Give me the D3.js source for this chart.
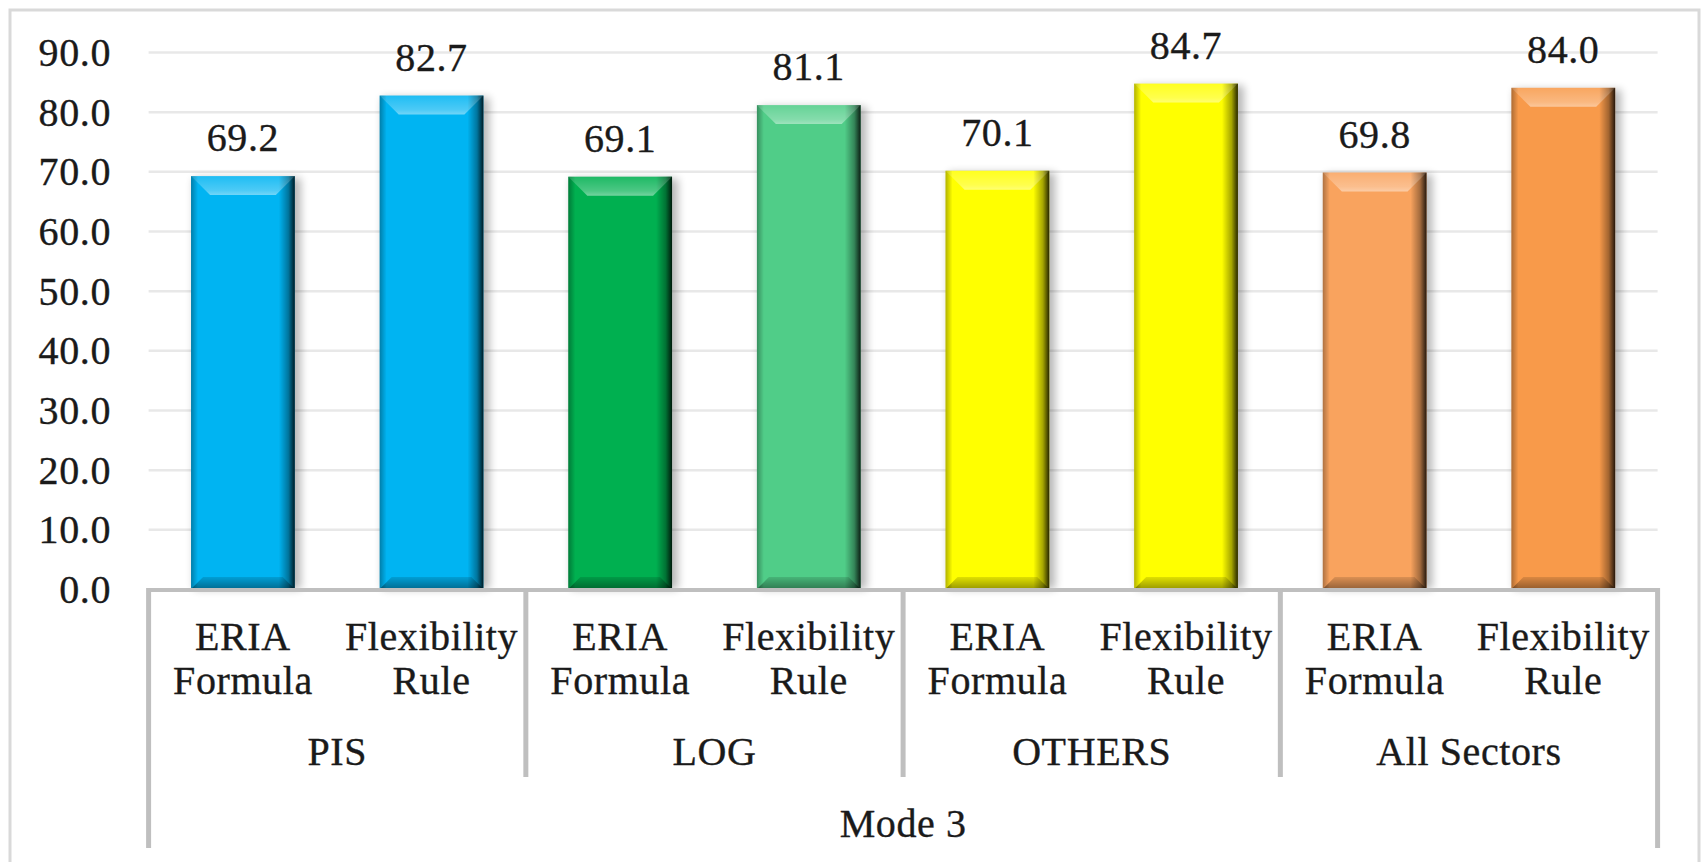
<!DOCTYPE html>
<html>
<head>
<meta charset="utf-8">
<script src="https://cdn.jsdelivr.net/npm/d3@7"></script>
<style>
  html, body { margin: 0; padding: 0; background: #fff; }
  svg { display: block; }
  text { font-family: "Liberation Serif", "Times New Roman", serif; fill: #1a1a1a;
         stroke: #1a1a1a; stroke-width: 0.35px; letter-spacing: 0.6px; }
</style>
</head>
<body>
<svg id="chart" width="1701" height="862"></svg>
<script>
// ---- data ----
const groups = ["PIS", "LOG", "OTHERS", "All Sectors"];
const methods = ["ERIA Formula", "Flexibility Rule"];
const methodLines = [["ERIA", "Formula"], ["Flexibility", "Rule"]];
const eriaValues = [69.2, 69.1, 70.1, 69.8];
const flexValues = [82.7, 81.1, 84.7, 84.0];
const yTicks = [0, 10, 20, 30, 40, 50, 60, 70, 80, 90];
const topLabel = "Mode 3";

// bar colours, per group: [ERIA, Flexibility]
const barColors = [
  ["#00B4F2", "#00B4F2"],
  ["#00B050", "#50CD88"],
  ["#FFFF00", "#FFFF00"],
  ["#F9A35E", "#F89A4A"]
];

const rows = [];
groups.forEach((g, gi) => {
  rows.push({ group: g, method: methods[0], value: eriaValues[gi], color: barColors[gi][0] });
  rows.push({ group: g, method: methods[1], value: flexValues[gi], color: barColors[gi][1] });
});

// ---- layout ----
const svg = d3.select("#chart");
const plotLeft = 148.6, plotRight = 1657.6, plotTop = 52, zeroY = 589;
const FONT = 40;

const x0 = d3.scaleBand().domain(groups).range([plotLeft, plotRight]).padding(0);
const x1 = d3.scaleBand().domain(methods).range([0, x0.bandwidth()])
  .paddingInner(0.45).paddingOuter(0.225);
const y = d3.scaleLinear().domain([0, 90]).range([zeroY, plotTop]);

// outer frame
svg.append("rect")
  .attr("x", 10).attr("y", 10).attr("width", 1689).attr("height", 870)
  .attr("fill", "none").attr("stroke", "#D9D9D9").attr("stroke-width", 3);

// defs: shadow + gradients
const defs = svg.append("defs");
const f = defs.append("filter").attr("id", "shadow")
  .attr("x", "-20%").attr("y", "-10%").attr("width", "140%").attr("height", "120%");
f.append("feGaussianBlur").attr("stdDeviation", 4);

const gRight = defs.append("linearGradient").attr("id", "rightShade")
  .attr("x1", 0).attr("x2", 1).attr("y1", 0).attr("y2", 0);
gRight.append("stop").attr("offset", "0%").attr("stop-color", "#000").attr("stop-opacity", 0);
gRight.append("stop").attr("offset", "60%").attr("stop-color", "#000").attr("stop-opacity", 0.35);
gRight.append("stop").attr("offset", "100%").attr("stop-color", "#000").attr("stop-opacity", 0.85);

const gLeft = defs.append("linearGradient").attr("id", "leftShade")
  .attr("x1", 0).attr("x2", 1).attr("y1", 0).attr("y2", 0);
gLeft.append("stop").attr("offset", "0%").attr("stop-color", "#000").attr("stop-opacity", 0.3);
gLeft.append("stop").attr("offset", "100%").attr("stop-color", "#000").attr("stop-opacity", 0);

const gTop = defs.append("linearGradient").attr("id", "topShine")
  .attr("x1", 0).attr("x2", 0).attr("y1", 0).attr("y2", 1);
gTop.append("stop").attr("offset", "0%").attr("stop-color", "#fff").attr("stop-opacity", 0.12);
gTop.append("stop").attr("offset", "75%").attr("stop-color", "#fff").attr("stop-opacity", 0.3);
gTop.append("stop").attr("offset", "100%").attr("stop-color", "#fff").attr("stop-opacity", 0.45);

const gBot = defs.append("linearGradient").attr("id", "botShade")
  .attr("x1", 0).attr("x2", 0).attr("y1", 0).attr("y2", 1);
gBot.append("stop").attr("offset", "0%").attr("stop-color", "#000").attr("stop-opacity", 0.12);
gBot.append("stop").attr("offset", "100%").attr("stop-color", "#000").attr("stop-opacity", 0.4);

// gridlines
const grid = svg.append("g").attr("transform", `translate(${plotLeft},0)`)
  .call(d3.axisLeft(y).tickValues(yTicks.filter(d => d > 0)).tickSize(-(plotRight - plotLeft)).tickFormat(""));
grid.select(".domain").remove();
grid.selectAll("line").attr("stroke", "#E8E8E8").attr("stroke-width", 2.5);

// y labels
const yAxis = svg.append("g").attr("transform", `translate(111,0)`)
  .call(d3.axisLeft(y).tickValues(yTicks).tickSize(0).tickPadding(0).tickFormat(d3.format(".1f")));
yAxis.select(".domain").remove();
yAxis.selectAll("text").attr("font-size", FONT).attr("font-family", null)
  .attr("fill", "#1a1a1a").attr("dy", "0.34em");

// bars
const bars = svg.append("g").selectAll("g.bar").data(rows).join("g").attr("class", "bar")
  .attr("transform", d => `translate(${x0(d.group) + x1(d.method)},0)`);
const bw = x1.bandwidth();
const bev = 19, bbev = 12;

bars.append("rect")
  .attr("x", 3).attr("y", d => y(d.value) + 2).attr("width", bw + 3).attr("height", d => zeroY - y(d.value) - 2)
  .attr("fill", "#000").attr("opacity", 0.28).attr("filter", "url(#shadow)");
bars.append("rect")
  .attr("x", 0).attr("y", d => y(d.value)).attr("width", bw).attr("height", d => zeroY - y(d.value))
  .attr("fill", d => d.color);
bars.append("rect")
  .attr("x", 0).attr("y", d => y(d.value)).attr("width", 7).attr("height", d => zeroY - y(d.value))
  .attr("fill", "url(#leftShade)");
bars.append("rect")
  .attr("x", bw - 16).attr("y", d => y(d.value)).attr("width", 16).attr("height", d => zeroY - y(d.value))
  .attr("fill", "url(#rightShade)");
bars.append("path")
  .attr("d", d => {
    const t = y(d.value);
    return `M0,${t}L${bw},${t}L${bw - bev},${t + bev}L${bev},${t + bev}Z`;
  })
  .attr("fill", "url(#topShine)");
bars.append("path")
  .attr("d", d => `M0,${zeroY}L${bw},${zeroY}L${bw - bbev},${zeroY - bbev}L${bbev},${zeroY - bbev}Z`)
  .attr("fill", "url(#botShade)");

// value labels
bars.append("text")
  .attr("x", bw / 2).attr("y", d => y(d.value) - 25)
  .attr("text-anchor", "middle").attr("font-size", FONT)
  .text(d => d.value.toFixed(1));

// category axis lines
const axisColor = "#BFBFBF";
const ax = svg.append("g");
ax.append("line").attr("x1", plotLeft).attr("x2", plotRight).attr("y1", zeroY + 1).attr("y2", zeroY + 1)
  .attr("stroke", axisColor).attr("stroke-width", 4);
const bounds = groups.map(g => x0(g)).concat([plotRight]);
ax.selectAll("line.sep").data(bounds).join("line").attr("class", "sep")
  .attr("x1", d => d).attr("x2", d => d)
  .attr("y1", zeroY - 1)
  .attr("y2", (d, i) => (i === 0 || i === bounds.length - 1) ? 848 : 777)
  .attr("stroke", axisColor).attr("stroke-width", 5);

// method labels
const catG = svg.append("g").selectAll("g").data(rows).join("g")
  .attr("transform", d => `translate(${x0(d.group) + x1(d.method) + bw / 2},0)`);
catG.each(function (d) {
  const lines = methodLines[methods.indexOf(d.method)];
  d3.select(this).selectAll("text").data(lines).join("text")
    .attr("x", 0).attr("y", (l, i) => 650 + i * 44)
    .attr("text-anchor", "middle").attr("font-size", FONT).text(l => l);
});

// group labels
svg.append("g").selectAll("text").data(groups).join("text")
  .attr("x", d => x0(d) + x0.bandwidth() / 2).attr("y", 765)
  .attr("text-anchor", "middle").attr("font-size", FONT).text(d => d);

// top-level label
svg.append("text").attr("x", (plotLeft + plotRight) / 2).attr("y", 837)
  .attr("text-anchor", "middle").attr("font-size", FONT).text(topLabel);
</script>
</body>
</html>
